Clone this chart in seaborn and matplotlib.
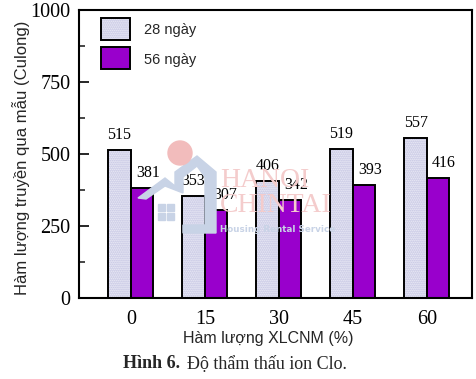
"""Chloride permeability chart, 28 and 56 days."""
import matplotlib
matplotlib.use("Agg")
import matplotlib.pyplot as plt
from matplotlib.patches import Rectangle, Ellipse, Polygon
import pandas as pd
import seaborn as sns

levels = ["0", "15", "30", "45", "60"]
day28 = [515, 353, 406, 519, 557]
day56 = [381, 307, 342, 393, 416]
series_names = ["28 ngày", "56 ngày"]

W, H = 477, 379
SERIF = ["Liberation Serif", "DejaVu Serif"]
SANS = ["Liberation Sans", "DejaVu Sans"]
PURPLE = "#9900cc"
DOTS = "#b9b9dc"
LAV = "#f2f2fa"
HATCH = "........"
WM_BLUE = "#c8d3e6"
WM_RED = "#f4cccc"


def fx(px):
    return px / W


def fy(px):
    return 1 - px / H


sns.set_style("white")
df = pd.DataFrame({
    "level": levels * 2,
    "value": day28 + day56,
    "series": [series_names[0]] * 5 + [series_names[1]] * 5,
})

fig = plt.figure(figsize=(W / 100, H / 100), dpi=100)
ax = fig.add_axes([fx(79), fy(298), (472 - 79) / W, (298 - 10) / H])
ax.patch.set_alpha(0)

# watermark goes under the bars
house = [(138, 198), (165, 178), (175, 186), (175, 172), (197, 156), (216, 172), (216, 233),
         (183, 233), (183, 225), (205, 225), (205, 177), (197, 166), (183, 177), (183, 193),
         (165, 186), (146, 199)]
fig.patches.append(Polygon([(fx(a), fy(b)) for a, b in house], transform=fig.transFigure,
                           color=WM_BLUE, zorder=0))
fig.patches.append(Ellipse((fx(180), fy(153)), 24 / W, 24 / H, transform=fig.transFigure,
                           color="#f2bcbc", zorder=0))
for wx in (158, 167):
    for wy in (204, 213):
        fig.patches.append(Rectangle((fx(wx), fy(wy + 7)), 7 / W, 7 / H,
                                     transform=fig.transFigure, color=WM_BLUE, zorder=0))
fig.text(fx(220), fy(181), "HANOI", family=SERIF, fontsize=20, color=WM_RED, va="center")
fig.text(fx(220), fy(206), "CHINTAI", family=SERIF, fontsize=20, color=WM_RED, va="center")
fig.text(fx(220), fy(230), "Housing Rental Service", family="DejaVu Sans", fontsize=6.3,
         weight="bold", color=WM_BLUE, va="center")

sns.barplot(data=df, x="level", y="value", hue="series", order=levels, hue_order=series_names,
            palette=["white", PURPLE], saturation=1, width=0.61, gap=0, legend=False, ax=ax)

ax.set_xlim(-0.70, 4.61)
ax.set_ylim(0, 1000)
ax.set_yticks([0, 250, 500, 750, 1000])
ax.set_yticks([125, 375, 625, 875], minor=True)

for i, (cont, vals) in enumerate(zip(ax.containers, [day28, day56])):
    for bar, v in zip(cont, vals):
        x, w = bar.get_x(), bar.get_width()
        if i == 0:
            # dot texture in lavender, black outline on top
            bar.set(facecolor=LAV, edgecolor=DOTS, hatch=HATCH, linewidth=0)
            ax.add_patch(Rectangle((x, 0), w, v, fill=False, edgecolor="black", lw=1.4, zorder=3))
            dx = 0
        else:
            bar.set(edgecolor="black", linewidth=1.4)
            dx = 9 if v == 307 else 6
        ax.annotate(str(v), (x + w / 2, v), xytext=(dx, 15), textcoords="offset pixels",
                    ha="center", va="center", family=SERIF, fontsize=11.5, color="black", zorder=5)

# legend keys drawn by hand to keep the outline separate from the dots
key1 = Rectangle((fx(101), fy(40)), 29 / W, 22 / H, transform=fig.transFigure,
                 facecolor=LAV, edgecolor=DOTS, hatch=HATCH, lw=0, zorder=4)
key1b = Rectangle((fx(101), fy(40)), 29 / W, 22 / H, transform=fig.transFigure,
                  fill=False, edgecolor="black", lw=1.4, zorder=4)
key2 = Rectangle((fx(101), fy(69)), 29 / W, 22 / H, transform=fig.transFigure,
                 facecolor=PURPLE, edgecolor="black", lw=1.4, zorder=4)
for k in (key1, key1b, key2):
    fig.patches.append(k)
fig.text(fx(144), fy(30), series_names[0], family=SANS, fontsize=10.5, va="center")
fig.text(fx(144), fy(60), series_names[1], family=SANS, fontsize=10.5, va="center")

for side in ["top", "left", "bottom", "right"]:
    ax.spines[side].set_visible(True)
    ax.spines[side].set_linewidth(1.5)
    ax.spines[side].set_color("black")

ax.tick_params(axis="y", which="major", direction="in", length=7, width=1.4, left=True, pad=6)
ax.tick_params(axis="y", which="minor", direction="in", length=4, width=1.2, left=True)
ax.tick_params(axis="x", bottom=False, pad=5)
for lab in ax.get_xticklabels() + ax.get_yticklabels():
    lab.set_family(SERIF)
    lab.set_fontsize(14.5)
    lab.set_color("black")

ax.set_xlabel("")
ax.set_ylabel("")
fig.text(fx(268), fy(338), "Hàm lượng XLCNM (%)", family=SANS, fontsize=11.5,
         ha="center", va="center")
fig.text(fx(21), fy(158), "Hàm lượng truyền qua mẫu (Culong)", family=SANS, fontsize=12,
         rotation=90, ha="center", va="center")
fig.text(fx(123), fy(364), "Hình 6.", family=SERIF, fontsize=13, weight="bold",
         ha="left", va="center")
fig.text(fx(187), fy(364), "Độ thẩm thấu ion Clo.", family=SERIF, fontsize=13,
         ha="left", va="center")

fig.savefig("out.png", dpi=100)
